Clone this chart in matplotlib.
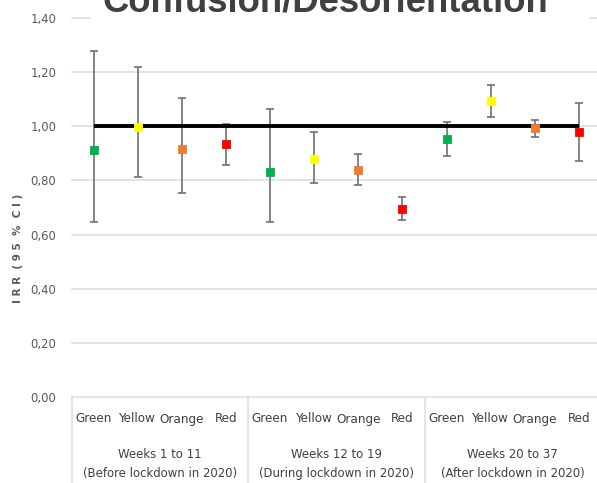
import matplotlib
matplotlib.use('Agg')
import matplotlib.pyplot as plt
from matplotlib.patches import Rectangle
from matplotlib import font_manager
from matplotlib.font_manager import FontProperties

# pick a narrow face for the axis labels if one is installed
narrow_file = None
for f in font_manager.fontManager.ttflist:
    n = f.fname.lower()
    if ('narrow' in n or 'condensed' in n) and 'bold' not in n \
            and 'italic' not in n and 'oblique' not in n:
        if narrow_file is None or 'liberation' in n:
            narrow_file = f.fname


def nfont(size):
    if narrow_file:
        return FontProperties(fname=narrow_file, size=size)
    return FontProperties(family='DejaVu Sans', size=size * 0.85)


# IRR estimates with 95 % CI, per alert level and period
levels = ['Green', 'Yellow', 'Orange', 'Red']
periods = ['Weeks 1 to 11\n(Before lockdown in 2020)',
           'Weeks 12 to 19\n(During lockdown in 2020)',
           'Weeks 20 to 37\n(After lockdown in 2020)']
irr = [0.912, 0.996, 0.915, 0.933,
       0.831, 0.880, 0.839, 0.694,
       0.953, 1.095, 0.995, 0.979]
ci_low = [0.645, 0.814, 0.754, 0.856,
          0.645, 0.789, 0.782, 0.653,
          0.890, 1.035, 0.960, 0.873]
ci_high = [1.277, 1.218, 1.105, 1.010,
           1.063, 0.978, 0.898, 0.739,
           1.017, 1.154, 1.023, 1.087]
level_colors = ['#00b050', '#ffff00', '#ed7d31', '#ff0000']
yticks = [0.0, 0.2, 0.4, 0.6, 0.8, 1.0, 1.2, 1.4]

W, H = 597, 483
fig = plt.figure(figsize=(W / 100, H / 100), dpi=100)
ax = fig.add_axes([71.5 / W, 86 / H, 529.5 / W, 379 / H])

x = list(range(len(irr)))
ax.set_xlim(-0.5, 11.5)
ax.set_ylim(0, 1.4)

for t in yticks:
    ax.axhline(t, color='#dcdcdc', lw=1.1, zorder=0, clip_on=False)

# confidence intervals
for i in x:
    ax.errorbar(i, irr[i], yerr=[[irr[i] - ci_low[i]], [ci_high[i] - irr[i]]],
                fmt='none', ecolor='#6f6f6f', elinewidth=1.2, capsize=2.6,
                capthick=1.2, zorder=2)

# reference line IRR = 1
ax.plot([0, 11], [1, 1], color='black', lw=2.8, zorder=3, solid_capstyle='butt')

for i in x:
    c = level_colors[i % 4]
    ax.plot(i, irr[i], marker='s', ms=6.3, color=c, mec=c, mew=0.6,
            zorder=4, linestyle='none')

for s in ax.spines.values():
    s.set_visible(False)
ax.set_xticks([])
ax.set_yticks(yticks)
ax.set_yticklabels([f'{t:.2f}'.replace('.', ',') for t in yticks],
                   fontproperties=nfont(9.3), color='#595959')
ax.tick_params(axis='y', length=0, pad=11)

# two-level category axis
tr = ax.get_xaxis_transform()
for b in [-0.5, 3.5, 7.5, 11.5]:
    ax.plot([b, b], [0, -0.23], transform=tr, color='#dcdcdc', lw=1.1,
            clip_on=False)
for i in x:
    ax.text(i, -22 / 379, levels[i % 4], transform=tr, ha='center',
            va='center', fontproperties=nfont(9.6), color='#404040')
for g, label in enumerate(periods):
    ax.text(4 * g + 1.5, -67 / 379, label, transform=tr, ha='center',
            va='center', fontproperties=nfont(9.4), color='#404040',
            linespacing=1.55)

fig.text(18 / W, 1 - 248 / H, 'I R R  ( 9 5  %  C I )', rotation=90,
         ha='center', va='center', fontsize=7.5, fontweight='bold',
         color='#595959')

# title box hides the top gridline
fig.add_artist(Rectangle((91 / W, 1 - 30 / H), 498 / W, 30 / H,
                         transform=fig.transFigure, facecolor='white',
                         edgecolor='none', zorder=5))
fig.text(325 / W, 1 - 12 / H, 'Confusion/Desorientation', ha='center',
         va='baseline', fontsize=26.3, fontweight='bold', color='#404040',
         fontfamily='Liberation Sans', zorder=6)

fig.savefig('out.png', dpi=100)
